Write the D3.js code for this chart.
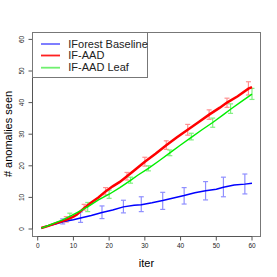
<!DOCTYPE html>
<html>
<head>
<meta charset="utf-8">
<script src="https://cdn.jsdelivr.net/npm/d3@7"></script>
<style>
  body { margin: 0; background: #fff; }
  svg { display: block; font-family: "Liberation Sans", Arial, sans-serif; }
</style>
</head>
<body>
<svg id="chart" width="277" height="277"></svg>
<script>
// series: [iter, value]
var baseline = [[1,0.3],[3,1.0],[5,1.6],[7,2.3],[10,2.9],[12,3.5],[15,4.3],[18,5.2],[21,6.0],[24,7.0],[27,7.5],[29,7.7],[32,8.3],[35,9.0],[38,9.8],[41,10.6],[44,11.5],[47,12.1],[50,12.6],[52,13.2],[55,13.9],[58,14.2],[60,14.5]];
var ifaad = [[1,0.3],[3,1.0],[5,1.8],[8,2.9],[10,3.9],[11,4.6],[13,6.6],[15,8.4],[17,10.0],[19,11.9],[21,13.5],[23,14.9],[25,16.7],[27,18.5],[30,21.3],[33,23.8],[36,26.5],[39,29.0],[42,31.4],[45,33.8],[48,36.2],[51,38.4],[53,40.0],[56,42.0],[59,44.4],[60,44.9]];
var ifaadLeaf = [[1,0.3],[3,1.1],[5,2.0],[7,2.9],[9,4.0],[11,5.2],[14,7.0],[17,9.2],[20,11.0],[23,13.1],[26,15.4],[28,17.0],[31,19.2],[34,21.6],[37,24.1],[40,26.6],[43,29.0],[46,31.4],[49,33.7],[52,36.2],[54,37.9],[57,40.3],[60,42.7]];

// error bars: [iter, low, high]
var baselineErr = [[7,1.6,3.2],[12,2.1,5.4],[18,3.3,7.3],[24,5.1,9.1],[29,5.5,10.2],[35,6.2,11.6],[41,7.9,13.1],[47,9.2,15.0],[52,10.2,16.4],[58,11.1,17.4]];
var ifaadErr = [[8,2.2,3.9],[13,6.0,7.8],[19,10.8,13.1],[25,15.5,17.9],[30,19.9,22.7],[36,25.2,27.9],[42,29.7,33.1],[48,34.7,37.7],[53,38.5,41.4],[59,42.4,46.6]];
var ifaadLeafErr = [[9,3.1,5.0],[14,5.5,8.4],[20,9.7,12.3],[26,14.5,16.4],[31,18.4,20.0],[37,23.2,25.0],[43,28.2,30.3],[49,32.2,35.1],[54,36.6,39.6],[60,41.0,44.5]];

var xTicks = [0, 10, 20, 30, 40, 50, 60];
var yTicks = [0, 10, 20, 30, 40, 50, 60];
var legendNames = ["IForest Baseline", "IF-AAD", "IF-AAD Leaf"];

var series = [
  {name: legendNames[0], data: baseline, err: baselineErr, color: "#0000ff", barColor: "#8f8fff", legColor: "#7070ff", width: 1.5},
  {name: legendNames[1], data: ifaad, err: ifaadErr, color: "#ff0000", barColor: "#ff9090", legColor: "#ff2020", width: 2.5},
  {name: legendNames[2], data: ifaadLeaf, err: ifaadLeafErr, color: "#00ee00", barColor: "#80f080", legColor: "#70f070", width: 1.4}
];

var svg = d3.select("#chart");
var box = {left: 32, top: 32, right: 260, bottom: 236};

var x = d3.scaleLinear().domain([0, 60]).range([37.7, 252]);
var y = d3.scaleLinear().domain([0, 60]).range([229, 39.4]);

// plot box
svg.append("rect")
  .attr("x", box.left + 0.5).attr("y", box.top + 0.5)
  .attr("width", box.right - box.left).attr("height", box.bottom - box.top)
  .attr("fill", "none").attr("stroke", "#777").attr("stroke-width", 1);

// x axis
var xa = svg.append("g").attr("transform", "translate(0," + (box.bottom + 0.5) + ")");
xa.append("line").attr("x1", x(0)).attr("x2", x(60)).attr("stroke", "#555");
xa.selectAll(".t").data(xTicks).enter().append("line")
  .attr("x1", function(d) { return x(d); }).attr("x2", function(d) { return x(d); })
  .attr("y1", 0).attr("y2", 4).attr("stroke", "#555");
xa.selectAll("text").data(xTicks).enter().append("text")
  .attr("x", function(d) { return x(d); }).attr("y", 11.5)
  .attr("text-anchor", "middle").attr("font-size", 6.5).attr("fill", "#222")
  .text(function(d) { return d; });

// y axis
var ya = svg.append("g").attr("transform", "translate(" + (box.left + 0.5) + ",0)");
ya.append("line").attr("y1", y(0)).attr("y2", y(60)).attr("stroke", "#555");
ya.selectAll(".t").data(yTicks).enter().append("line")
  .attr("y1", function(d) { return y(d); }).attr("y2", function(d) { return y(d); })
  .attr("x1", 0).attr("x2", -4).attr("stroke", "#555");
ya.selectAll("text").data(yTicks).enter().append("text")
  .attr("transform", function(d) { return "translate(-9," + y(d) + ") rotate(-90)"; })
  .attr("text-anchor", "middle").attr("font-size", 6.5).attr("fill", "#222")
  .text(function(d) { return d; });

// axis titles
svg.append("text").attr("x", 146.5).attr("y", 267).attr("text-anchor", "middle")
  .attr("font-size", 11).text("iter");
svg.append("text").attr("transform", "translate(12," + ((box.top + box.bottom) / 2) + ") rotate(-90)")
  .attr("text-anchor", "middle").attr("font-size", 11).text("# anomalies seen");

var line = d3.line().x(function(d) { return x(d[0]); }).y(function(d) { return y(d[1]); });

// error bars first, lines on top
series.forEach(function(s) {
  var g = svg.append("g").attr("stroke", s.barColor).attr("stroke-width", 1.2).attr("fill", "none");
  s.err.forEach(function(e) {
    var cx = x(e[0]);
    g.append("line").attr("x1", cx).attr("x2", cx).attr("y1", y(e[1])).attr("y2", y(e[2]));
    g.append("line").attr("x1", cx - 2.5).attr("x2", cx + 2.5).attr("y1", y(e[1])).attr("y2", y(e[1]));
    g.append("line").attr("x1", cx - 2.5).attr("x2", cx + 2.5).attr("y1", y(e[2])).attr("y2", y(e[2]));
  });
});
series.forEach(function(s) {
  svg.append("path").datum(s.data).attr("d", line)
    .attr("fill", "none").attr("stroke", s.color).attr("stroke-width", s.width);
});

// legend
var lg = svg.append("g");
lg.append("rect").attr("x", box.left + 0.5).attr("y", box.top + 0.5)
  .attr("width", 115).attr("height", 45)
  .attr("fill", "#fff").attr("stroke", "#777");
var lgY = [44, 55.5, 67.7];
series.forEach(function(s, i) {
  lg.append("line").attr("x1", 41).attr("x2", 60).attr("y1", lgY[i]).attr("y2", lgY[i])
    .attr("stroke", s.legColor).attr("stroke-width", 1.8);
  lg.append("text").attr("x", 68.3).attr("y", lgY[i] + 3.6).attr("font-size", 11)
    .attr("fill", "#222").text(s.name);
});
</script>
</body>
</html>
